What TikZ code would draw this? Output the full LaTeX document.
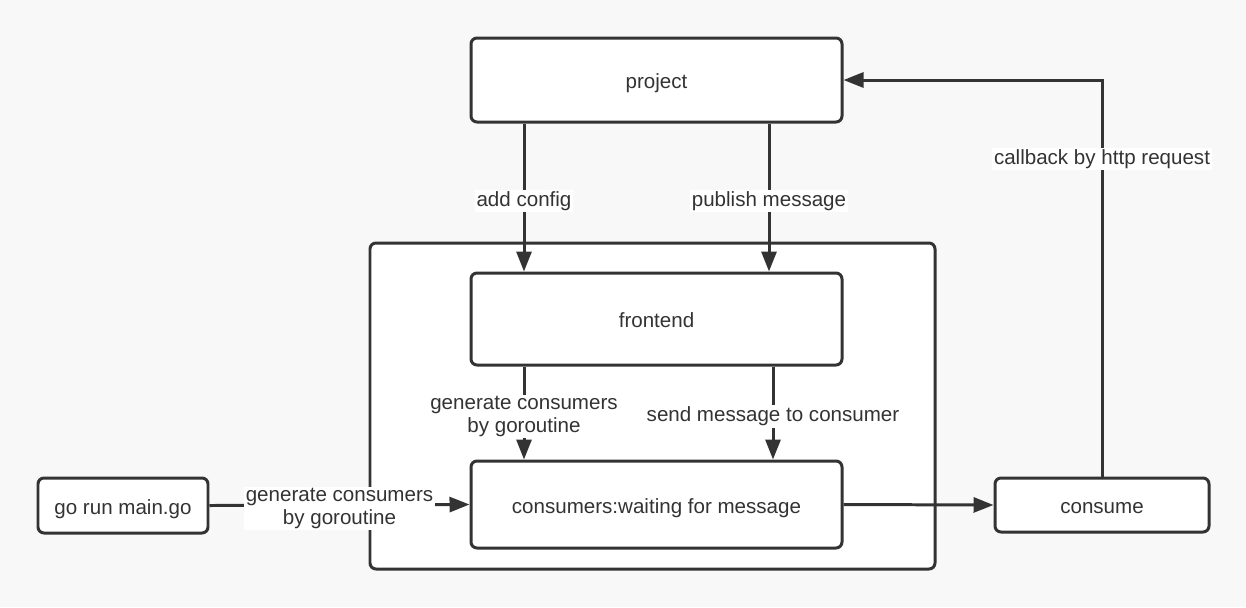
\documentclass[tikz,border=0pt]{standalone}
\usepackage{fontspec}
\setmainfont{Liberation Sans}
\usepackage{tikz}
\usetikzlibrary{arrows.meta}
\definecolor{ink}{HTML}{333333}
\definecolor{paper}{HTML}{F8F8F8}

\begin{document}
\begin{tikzpicture}[
    font=\fontsize{11.7}{13.5}\selectfont,
    box/.style={draw=ink, line width=1.7pt, fill=white, rounded corners=0.12cm, text=ink, inner sep=0pt, text height=0.98em, text depth=0pt},
    arrow/.style={draw=ink, line width=1.7pt, -{Triangle[length=0.4cm, width=0.3cm]}},
    lbl/.style={fill=white, text=ink, align=center, inner sep=1pt, yshift=-0.07cm, font=\fontsize{11.7}{13}\selectfont}
]
        % canvas
        \fill[paper] (0,0) rectangle (24.92,-12.14);
        \useasboundingbox (0,0) rectangle (24.92,-12.14);
        \draw[draw=ink, line width=1.7pt, fill=white, rounded corners=0.12cm] (7.40,-4.86) rectangle (18.70,-11.38);

        % nodes
        \node[box, minimum width=7.42cm, minimum height=1.68cm] (project) at (13.13,-1.60) {project};
        \node[box, minimum width=7.42cm, minimum height=1.84cm] (frontend) at (13.13,-6.38) {frontend};
        \node[box, minimum width=7.42cm, minimum height=1.74cm] (consumers) at (13.13,-10.09) {consumers:waiting for message};
        \node[box, minimum width=3.40cm, minimum height=1.10cm] (gorun) at (2.46,-10.11) {go run main.go};
        \node[box, minimum width=4.28cm, minimum height=1.08cm] (consume) at (22.04,-10.10) {consume};

        % connectors
        \draw[arrow] ([xshift=-2.65cm]project.south) -- ([xshift=-2.65cm]frontend.north) node[midway, lbl] {add config};
        \draw[arrow] ([xshift=2.25cm]project.south) -- ([xshift=2.25cm]frontend.north) node[midway, lbl] {publish message};
        \draw[arrow] ([xshift=-2.65cm]frontend.south) -- ([xshift=-2.65cm]consumers.north) node[midway, lbl] {generate consumers\\by goroutine};
        \draw[arrow] ([xshift=2.33cm]frontend.south) -- ([xshift=2.33cm]consumers.north) node[midway, lbl] {send message to consumer};
        \draw[arrow] (gorun.east) -- (consumers.west) node[midway, lbl] {generate consumers\\by goroutine};
        \draw[arrow] (consumers.east) -- (consume.west);
        \draw[arrow] (consume.north) |- (project.east) node[pos=0.405, lbl] {callback by http request};
    \end{tikzpicture}
\end{document}
